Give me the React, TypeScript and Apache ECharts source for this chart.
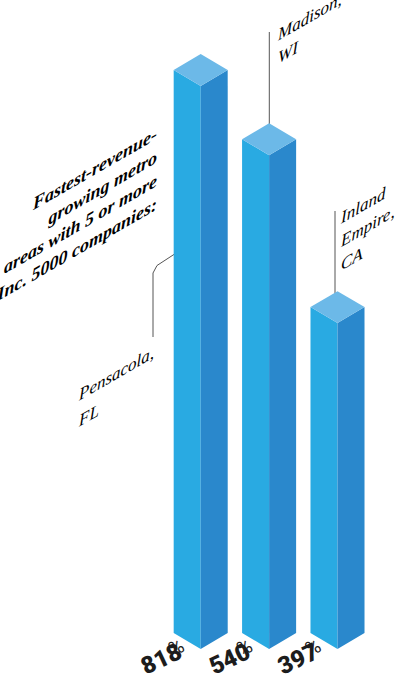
import React, { useEffect, useRef } from "react";
import * as echarts from "echarts";

// Metro areas (categories), left to right
const cities = ["Pensacola, FL", "Madison, WI", "Inland Empire, CA"];
// Revenue growth shown in the labels (%)
const growthPct = [818, 540, 397];
// Drawn column height in the graphic's own units (the artwork is not to scale)
const columnHeight = [100, 87.7, 57.9];

const titleLines = [
  "Fastest-revenue-",
  "growing metro",
  "areas with 5 or more",
  "Inc. 5000 companies:",
];
const cityLabelLines = [["Pensacola,", "FL"], ["Madison,", "WI"], ["Inland", "Empire,", "CA"]];

const LEFT = "#29aae2";
const RIGHT = "#2a88cc";
const TOP = "#6cb9e8";
const SKEW = Math.PI / 6;
const LABEL_ROT = (25 * Math.PI) / 180;

export default function App() {
  const ref = useRef<HTMLDivElement>(null);
  useEffect(() => {
    if (!ref.current) return;
    const chart = echarts.init(ref.current, null, { renderer: "svg" });
    const data = columnHeight.map((h, i) => [i, h]);

    // skewed single-line text; (x, baseline) is the line's anchor
    const skewLine = (text: string, x: number, baseline: number, bold: boolean, size: number, right: boolean) => {
      const style: any = {
        text,
        fontSize: size,
        fontFamily: "Liberation Serif",
        fontStyle: "italic",
        fontWeight: bold ? "bold" : "normal",
        fill: "#000",
      };
      if (right) style.align = "right";
      return { type: "text", x, y: baseline - size * 0.9, skewY: SKEW, style };
    };
    const texts: any[] = [];
    titleLines.forEach((t, k) => texts.push(skewLine(t, 157, 140 + k * 23.5, true, 18, true)));
    cityLabelLines[0].forEach((t, k) => texts.push(skewLine(t, 79, 402 + k * 26, false, 17, false)));
    cityLabelLines[1].forEach((t, k) => texts.push(skewLine(t, 278, 42 + k * 23, false, 17, false)));
    cityLabelLines[2].forEach((t, k) => texts.push(skewLine(t, 341, 225 + k * 23.5, false, 17, false)));

    const dot = (x: number, y: number) => ({
      type: "circle",
      shape: { cx: x, cy: y, r: 2 },
      style: { fill: "#d8eefa", stroke: "#222", lineWidth: 1 },
    });
    const seg = (x1: number, y1: number, x2: number, y2: number) => ({
      type: "line",
      shape: { x1, y1, x2, y2 },
      style: { stroke: "#555", lineWidth: 1 },
    });

    chart.setOption({
      animation: false,
      grid: { left: 166.5, right: 26.3, top: 86, bottom: 26 },
      xAxis: { type: "category", data: cities, show: false },
      yAxis: { type: "value", min: 0, max: 100, show: false },
      series: [
        {
          type: "custom",
          data,
          encode: { x: 0, y: 1 },
          renderItem: (params: any, api: any) => {
            const i = api.value(0);
            const v = api.value(1);
            const top = api.coord([i, v]);
            const base = api.coord([i, 0]);
            const w = api.size([1, 0])[0] * 0.395;
            const h = w * 0.59;
            const cx = top[0];
            const ty = top[1];
            const by = base[1];
            return {
              type: "group",
              children: [
                {
                  type: "polygon",
                  shape: { points: [[cx - w, ty - h], [cx, ty], [cx, by], [cx - w, by - h]] },
                  style: { fill: LEFT },
                },
                {
                  type: "polygon",
                  shape: { points: [[cx, ty], [cx + w, ty - h], [cx + w, by - h], [cx, by]] },
                  style: { fill: RIGHT },
                },
                {
                  type: "polygon",
                  shape: { points: [[cx, ty], [cx - w, ty - h], [cx, ty - 2 * h], [cx + w, ty - h]] },
                  style: { fill: TOP },
                },
              ],
            };
          },
        },
      ],
      graphic: [
        seg(153, 337, 153, 273),
        seg(153, 273, 157, 265.5),
        seg(157, 265.5, 190, 244),
        seg(269.3, 32, 269.3, 137),
        seg(335, 211, 335, 305),
        dot(190, 244),
        dot(269.3, 137),
        dot(335, 305),
        ...texts,
      ],
    });

    // percentage labels placed from the chart's own scales
    const labels: any[] = [];
    growthPct.forEach((p, i) => {
      const base = chart.convertToPixel({ gridIndex: 0 }, [i, 0]) as number[];
      const ax = base[0] - 43;
      const ay = base[1] + 7;
      // number (right end at local x = 12), then "%"
      const nx = -28;
      labels.push({
        type: "text",
        x: ax + nx * Math.cos(LABEL_ROT) + 12 * Math.sin(LABEL_ROT),
        y: ay - nx * Math.sin(LABEL_ROT) - 12 * Math.cos(LABEL_ROT) + 12 * Math.cos(LABEL_ROT) - 12 * Math.cos(LABEL_ROT),
        rotation: LABEL_ROT,
        style: { text: String(p), fontSize: 24, fontFamily: "Roboto", fontWeight: 900, fill: "#1c1c1c" },
      });
      labels.push({
        type: "text",
        x: ax + 13 * Math.cos(LABEL_ROT) - 10 * Math.sin(LABEL_ROT),
        y: ay - 13 * Math.sin(LABEL_ROT) - 10 * Math.cos(LABEL_ROT),
        rotation: LABEL_ROT,
        style: { text: "%", fontSize: 20, fontFamily: "Roboto", fontWeight: "normal", fill: "#1c1c1c" },
      });
    });
    chart.setOption({ graphic: [...(chart.getOption() as any).graphic[0].elements.map(() => ({})), ...labels] });

    return () => chart.dispose();
  }, []);
  return (
    <div ref={ref} style={{ position: "absolute", left: 0, top: 0, width: 398, height: 675, background: "#fff" }} />
  );
}
